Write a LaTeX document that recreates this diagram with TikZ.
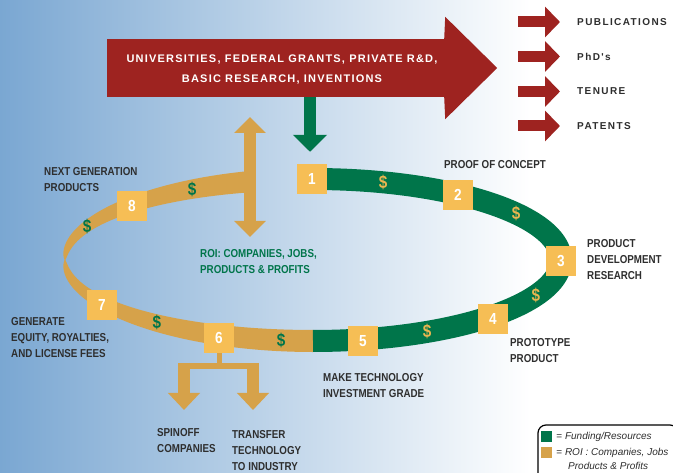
\documentclass[tikz,border=0pt]{standalone}
\usepackage{fontspec}
\setmainfont{Liberation Sans}
\newfontfamily\narrowfont[FakeStretch=0.85]{Liberation Sans}
\newfontfamily\spacedfont[LetterSpace=11]{Liberation Sans}
\newfontfamily\outfont[LetterSpace=14]{Liberation Sans}
\usetikzlibrary{arrows.meta,positioning}
\definecolor{bgblue}{HTML}{7AA7D2}
\definecolor{grantred}{HTML}{9E2320}
\definecolor{fundgreen}{HTML}{00754A}
\definecolor{roitan}{HTML}{D6A24A}
\definecolor{stagebox}{HTML}{F6BE55}
\definecolor{dollargold}{HTML}{E9B650}
\definecolor{labelgray}{HTML}{2E2E2E}

\begin{document}
\begin{tikzpicture}[x=1pt,y=-1pt,
  stage/.style={fill=stagebox,minimum size=30pt,inner sep=0pt,text=white,
    font=\narrowfont\bfseries\fontsize{16}{16}\selectfont},
  cashg/.style={text=fundgreen,inner sep=0pt,
    font=\narrowfont\bfseries\fontsize{18}{18}\selectfont},
  casht/.style={cashg,text=dollargold},
  lbl/.style={anchor=west,align=left,inner sep=0pt,text=labelgray,
    font=\narrowfont\bfseries\fontsize{11.5}{16}\selectfont},
  outlbl/.style={anchor=west,inner sep=0pt,text=labelgray,
    font=\outfont\bfseries\fontsize{10}{12}\selectfont},
  keytext/.style={anchor=west,inner sep=0pt,text=labelgray,
    font=\fontsize{10}{12}\selectfont},
  outarrow/.style={grantred,line width=11pt,-{Triangle[width=30pt,length=15pt]}},
  roiarrow/.style={roitan,line width=12pt,-{Triangle[width=31pt,length=17pt]}},
]
\clip (0,0) rectangle (673,473);
\shade[left color=bgblue,right color=white] (0,0) rectangle (530,473);
\fill[white] (530,0) rectangle (673,473);

% the ring: ROI half twists at the left
\fill[roitan] plot[domain=104:270,samples=150]
  ({313+(248+11*pow(abs(sin(\x))+0.001,0.6))*cos(\x)},{260-(81+11*pow(abs(sin(\x))+0.001,0.6))*sin(\x)})
  -- plot[domain=270:104,samples=150]
  ({313+(248-11*pow(abs(sin(\x))+0.001,0.6))*cos(\x)},{260-(81-11*pow(abs(sin(\x))+0.001,0.6))*sin(\x)})
  -- cycle;
\draw[fundgreen,line width=22pt] plot[domain=90:-90,samples=150]
  ({313+248*cos(\x)},{260-81*sin(\x)});

% dollars on the ring
\foreach \a in {73.6,35,-26,-62.6}
  \node[casht] at ({313+248*cos(\a)},{260-81*sin(\a)}) {\$};
\foreach \a in {262.6,231,155.6,119.2}
  \node[cashg] at ({313+248*cos(\a)},{260-81*sin(\a)}) {\$};

% stages
\foreach \n/\px/\py in {1/312/179,2/458/195,3/561/261,4/493/319,
                        5/363/341,6/219/338,7/102/305,8/132/206}
  \node[stage] (b\n) at (\px,\py) {\n};

% ROI up and down
\coordinate (roitop) at (250,117);
\coordinate (roibot) at (250,237);
\draw[roitan,line width=12pt,{Triangle[width=31pt,length=16pt]}-{Triangle[width=31pt,length=16pt]}] (roitop) -- (roibot);

% inputs
\node[fill=grantred,minimum width=338pt,minimum height=58pt,inner sep=0pt] (grants) at (276,68) {};
\fill[grantred] ([xshift=-1pt]grants.north east) -- ([yshift=22pt]grants.north east)
  -- ([xshift=52pt]grants.east) -- ([yshift=-22pt]grants.south east)
  -- ([xshift=-1pt]grants.south east) -- cycle;
\node[text=white,align=center,font=\spacedfont\bfseries\fontsize{11}{20}\selectfont]
  (grantstext) at ([xshift=6pt,yshift=-2pt]grants.center)
  {UNIVERSITIES, FEDERAL GRANTS, PRIVATE R\&D,\\BASIC RESEARCH, INVENTIONS};
\draw[fundgreen,line width=12pt,-{Triangle[width=33pt,length=17pt]}]
  ([xshift=-2pt]grants.south -| b1) -- ([xshift=-2pt,yshift=12pt]b1.north);

% outputs
\foreach \py/\txt/\nm in {22/PUBLICATIONS/pub,56.5/PhD's/phd,91.5/TENURE/tenure,126/PATENTS/patents}{
  \node[outlbl] (\nm) at (577,\py) {\txt};
  \draw[outarrow] ([xshift=-59pt]\nm.west) -- ([xshift=-17pt]\nm.west);
}

% spinoff / transfer split
\coordinate (split) at (219,366);
\coordinate (spinstart) at (184,363);
\coordinate (xferstart) at (253,363);
\coordinate (spin) at (184,410);
\coordinate (xfer) at (253,410);
\draw[roitan,line width=5pt] (b6.south) -- (split);
\fill[roitan] (178,363) rectangle (259,369);
\draw[roiarrow] (spinstart) -- (spin);
\draw[roiarrow] (xferstart) -- (xfer);

% labels
\node[lbl] (nextgen) at (44,180) {NEXT GENERATION\\PRODUCTS};
\node[lbl] (proof) at (444,165) {PROOF OF CONCEPT};
\node[lbl] (proddev) at (587,260) {PRODUCT\\DEVELOPMENT\\RESEARCH};
\node[lbl] (proto) at (510,351) {PROTOTYPE\\PRODUCT};
\node[lbl] (invest) at (323,385.5) {MAKE TECHNOLOGY\\INVESTMENT GRADE};
\node[lbl] (spinoff) at (157,440.5) {SPINOFF\\COMPANIES};
\node[lbl] (transfer) at (232,451) {TRANSFER\\TECHNOLOGY\\TO INDUSTRY};
\node[lbl] (equity) at (11,338) {GENERATE\\EQUITY, ROYALTIES,\\AND LICENSE FEES};
\node[lbl,text=fundgreen] (roi) at (200,262) {ROI: COMPANIES, JOBS,\\PRODUCTS \& PROFITS};

% legend
\draw[line width=1.2pt,rounded corners=8pt,fill=white] (538,425) rectangle (678,490);
\node[fill=fundgreen,minimum size=11pt,inner sep=0pt] (keyfund) at (546.5,436.5) {};
\node[fill=roitan,minimum size=11pt,inner sep=0pt] (keyroi) at (546.5,452.5) {};
\node[keytext,right=4pt of keyfund] (keyfundlbl) {= \textit{Funding/Resources}};
\node[keytext,right=4pt of keyroi] (keyroilbl) {= \textit{ROI : Companies, Jobs}};
\node[keytext] (keyprodlbl) at (568,466) {\textit{Products \& Profits}};
\end{tikzpicture}
\end{document}
